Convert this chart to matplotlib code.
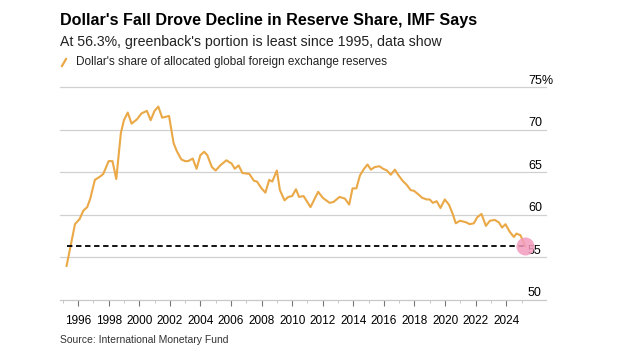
import numpy as np
import matplotlib.pyplot as plt
from matplotlib.lines import Line2D
from matplotlib.transforms import ScaledTranslation
plt.rcParams['font.family'] = ['Liberation Sans', 'DejaVu Sans']

# Quarterly readings, dollar share of allocated reserves (%)
years = [1995.25, 1995.8, 1996.1, 1996.35, 1996.6, 1996.8, 1997.1, 1997.45, 1997.65, 1998.0,
         1998.25, 1998.5, 1998.8, 1999.0, 1999.25, 1999.5, 1999.85, 2000.15, 2000.5, 2000.75,
         2001.0, 2001.25, 2001.5, 2001.95, 2002.25, 2002.45, 2002.75, 2003.0, 2003.2, 2003.5,
         2003.75, 2004.0, 2004.25, 2004.45, 2004.75, 2005.0, 2005.3, 2005.7, 2006.05, 2006.25,
         2006.5, 2006.75, 2007.2, 2007.5, 2007.7, 2008.0, 2008.25, 2008.5, 2008.7, 2009.0,
         2009.2, 2009.5, 2009.75, 2010.0, 2010.25, 2010.45, 2010.75, 2011.2, 2011.7, 2012.0,
         2012.45, 2012.7, 2013.1, 2013.45, 2013.73, 2013.95, 2014.2, 2014.43, 2014.7, 2014.93,
         2015.15, 2015.4, 2015.7, 2015.95, 2016.2, 2016.45, 2016.72, 2016.93, 2017.22, 2017.5,
         2017.75, 2017.98, 2018.25, 2018.5, 2018.8, 2019.0, 2019.2, 2019.45, 2019.7, 2019.98,
         2020.25, 2020.5, 2020.7, 2020.97, 2021.2, 2021.4, 2021.6, 2021.88, 2022.1, 2022.38,
         2022.67, 2022.93, 2023.25, 2023.52, 2023.73, 2023.95, 2024.23, 2024.5, 2024.67, 2024.93,
         2025.25]
share = [54.0, 58.9, 59.5, 60.5, 60.9, 61.9, 64.1, 64.5, 64.8, 66.3,
         66.3, 64.2, 69.6, 71.1, 72.0, 70.7, 71.2, 71.9, 72.2, 71.1,
         72.2, 72.7, 71.4, 71.6, 68.4, 67.5, 66.5, 66.3, 66.3, 66.6,
         65.4, 67.0, 67.4, 67.0, 65.6, 65.2, 65.8, 66.4, 66.0, 65.4,
         65.8, 64.9, 64.8, 64.0, 63.9, 63.1, 62.6, 64.1, 63.9, 65.2,
         62.9, 61.7, 62.1, 62.2, 63.0, 62.1, 62.2, 60.9, 62.7, 62.0,
         61.4, 61.5, 62.1, 61.9, 61.2, 63.1, 63.1, 64.6, 65.4, 65.9,
         65.3, 65.6, 65.7, 65.4, 65.2, 64.7, 65.3, 64.7, 64.0, 63.5,
         62.9, 62.8, 62.4, 62.0, 61.8, 61.8, 61.4, 61.6, 60.8, 61.8,
         61.2, 60.1, 59.0, 59.3, 59.2, 59.1, 58.9, 59.0, 59.7, 60.1,
         58.7, 59.3, 59.4, 59.1, 58.5, 58.9, 58.0, 57.4, 57.8, 57.6,
         56.3]
latest = 56.3
year_ticks = list(range(1996, 2025, 2))
y_ticks = [50, 55, 60, 65, 70, 75]
y_labels = ['50', '55', '60', '65', '70', '75%']

line_color = '#EAA846'
grid_color = '#d0d0d0'

fig = plt.figure(figsize=(6.29, 3.6), dpi=100)
ax = fig.add_axes([60/629, 1 - 300/360, 486/629, 213/360])

# Main series, dashed marker at latest value, highlight dot
ax.plot(years, share, color=line_color, linewidth=1.5, zorder=3)
ax.hlines(latest, years[0], years[-1], colors='black', linestyles=(0, (3, 2)), linewidth=1.3, zorder=4)
ax.plot(years[-1], share[-1], 'o', markersize=13, color='#F39BBE', alpha=0.85, markeredgewidth=0, zorder=5)

ax.set_xlim(1994.82, 2026.6)
ax.set_ylim(50, 75)

# Grid and spines
for v in y_ticks[1:]:
    ax.axhline(v, color=grid_color, linewidth=0.9, zorder=1, clip_on=False)
for s in ['top', 'left', 'right']:
    ax.spines[s].set_visible(False)
ax.spines['bottom'].set_color('#c8c8c8')
ax.spines['bottom'].set_linewidth(0.9)

# X ticks: major every two years, minor on odd years
ax.set_xticks(year_ticks)
ax.set_xticklabels([str(y) for y in year_ticks], fontsize=8.5)
ax.set_xticks(list(range(1995, 2026, 2)), minor=True)
ax.tick_params(axis='x', which='major', length=4, width=0.8, color='#777777', pad=7)
ax.tick_params(axis='x', which='minor', length=2, width=0.6, color='#bbbbbb')

# Y labels on the right, sitting above the grid lines
ax.yaxis.tick_right()
ax.set_yticks(y_ticks)
ax.set_yticklabels(y_labels, fontsize=9)
ax.tick_params(axis='y', length=0, pad=-13)
for lab in ax.get_yticklabels():
    lab.set_transform(lab.get_transform() + ScaledTranslation(0, 8/100, fig.dpi_scale_trans))

# Header text
fig.text(60/629, 1 - 21/360, "Dollar's Fall Drove Decline in Reserve Share, IMF Says",
         fontsize=11.6, fontweight='bold', va='center', ha='left')
fig.text(60/629, 1 - 42/360, "At 56.3%, greenback's portion is least since 1995, data show",
         fontsize=10.2, va='center', ha='left', color='#222222')
fig.add_artist(Line2D([62/629, 66/629], [1 - 66/360, 1 - 59/360], transform=fig.transFigure,
                      color=line_color, linewidth=1.6))
fig.text(76/629, 1 - 62/360, "Dollar's share of allocated global foreign exchange reserves",
         fontsize=8.5, va='center', ha='left', color='#222222')
fig.text(60/629, 1 - 340/360, "Source: International Monetary Fund",
         fontsize=7.5, va='center', ha='left', color='#333333')

plt.savefig('out.png', dpi=100)
